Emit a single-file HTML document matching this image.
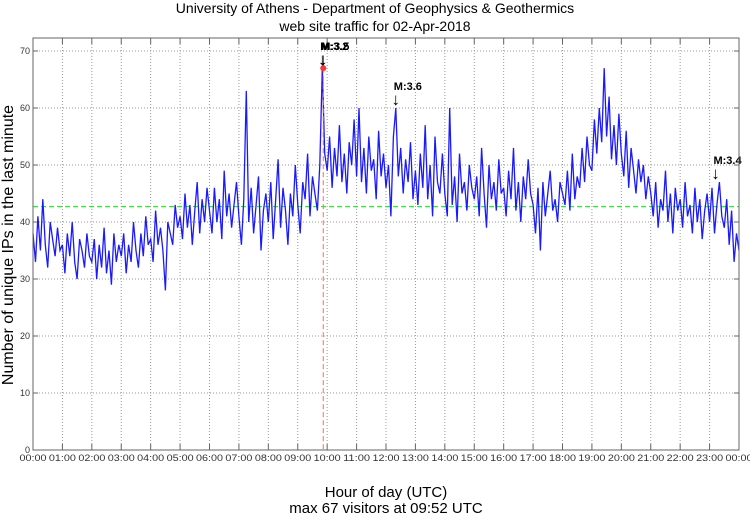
<!DOCTYPE html>
<html><head><meta charset="utf-8"><style>
body{margin:0;background:#fff;}
svg{display:block;font-family:"Liberation Sans",sans-serif;}
</style></head><body>
<svg id="chart" width="750" height="515" viewBox="0 0 750 515" xmlns="http://www.w3.org/2000/svg">
<text x="375" y="13" text-anchor="middle" font-size="14">University of Athens - Department of Geophysics &amp; Geothermics</text>
<text x="375" y="31" text-anchor="middle" font-size="14">web site traffic for 02-Apr-2018</text>
<text transform="translate(13,245) rotate(-90)" text-anchor="middle" font-size="16">Number of unique IPs in the last minute</text>
<text x="386" y="497" text-anchor="middle" font-size="15">Hour of day (UTC)</text>
<text x="386" y="513" text-anchor="middle" font-size="15">max 67 visitors at 09:52 UTC</text>
<g id="grid"></g>
<g id="series"></g>
<g id="marks"></g>
<rect x="33" y="38" width="706" height="412" fill="none" stroke="#666" stroke-width="1"/>
</svg>
<script>
const yTicks=[0,10,20,30,40,50,60,70];
const xTickLabels=["00:00","01:00","02:00","03:00","04:00","05:00","06:00","07:00","08:00","09:00","10:00","11:00","12:00","13:00","14:00","15:00","16:00","17:00","18:00","19:00","20:00","21:00","22:00","23:00","00:00"];
const visitors=[
38,33,41,35,44,36,32,40,37,34,39,35,
36,31,38,34,40,33,30,37,35,32,38,34,
33,37,30,36,32,39,31,35,29,38,33,36,
34,38,31,36,33,40,35,32,38,34,41,36,
37,33,42,36,39,35,28,40,38,36,43,39,
41,37,45,39,43,36,42,47,38,44,40,46,
42,38,46,40,44,37,49,41,45,39,43,47,
41,36,44,63,40,46,38,43,48,35,42,45,
40,47,37,44,51,39,46,42,36,45,41,50,
43,38,47,44,52,41,48,45,42,50,67,52,
49,55,46,53,48,57,47,52,45,54,50,58,
48,60,47,53,45,55,49,51,44,56,48,52,
46,50,41,55,60,48,53,45,51,47,54,44,
49,43,52,46,57,44,50,41,55,47,45,52,
45,41,60,43,48,40,52,45,47,42,50,46,
44,48,41,53,45,39,50,44,47,42,51,45,
46,41,49,44,53,42,47,40,48,44,51,45,
43,38,46,35,47,41,45,49,42,44,40,47,
45,43,49,42,52,44,48,46,53,47,55,50,
49,58,52,60,54,67,55,62,51,57,50,59,
52,48,56,46,53,49,45,51,47,50,44,48,
45,41,47,39,44,42,49,40,45,38,46,42,
44,39,47,41,43,38,46,40,44,37,42,45,
40,46,38,43,47,41,39,44,36,42,33,38,35];
const stepMinutes=5;
const meanVisitors=42.7;
const maxMinute=592; const maxValue=67;
const quakeLabels=["M:3.2","M:3.5","M:3.6","M:3.4"];
const quakeMinutes=[590,592,740,1392];
const quakeValues=[67,67,60,47];

const NS="http://www.w3.org/2000/svg";
const X0=33,X1=739,Y0=450,YT=38;
const xs=m=>X0+m/1440*(X1-X0);
const ys=v=>Y0-v*5.7;
function mk(tag,attrs,parent){const e=document.createElementNS(NS,tag);for(const k in attrs)e.setAttribute(k,attrs[k]);parent.appendChild(e);return e;}
const grid=document.getElementById('grid'),series=document.getElementById('series'),marks=document.getElementById('marks');
yTicks.forEach(v=>{
  const y=ys(v);
  if(v>0){const g=mk('line',{x1:X0,x2:X1,y1:y,y2:y,stroke:'#999','stroke-dasharray':'1,2'},grid);
  
  }
  mk('line',{x1:X0,x2:X0+5,y1:y,y2:y,stroke:'#666'},grid);
  mk('line',{x1:X1-5,x2:X1,y1:y,y2:y,stroke:'#666'},grid);
  const t=mk('text',{x:X0-3,y:y+3,'text-anchor':'end','font-size':'9',fill:'#333'},grid);
  t.textContent=v;
  
  
});
xTickLabels.forEach((lab,i)=>{
  const x=xs(i*60);
  if(i>0&&i<24){const g=mk('line',{x1:x,x2:x,y1:YT,y2:Y0,stroke:'#999','stroke-dasharray':'1,2'},grid);
  
  }
  mk('line',{x1:x,x2:x,y1:Y0-6,y2:Y0,stroke:'#666'},grid);
  mk('line',{x1:x,x2:x,y1:YT,y2:YT+6,stroke:'#666'},grid);
  const t=mk('text',{x:x,y:Y0+11,'text-anchor':'middle','font-size':'9',fill:'#333',textLength:'27',lengthAdjust:'spacingAndGlyphs'},grid);
  t.textContent=lab;
  
  
});
const mean=mk('line',{x1:X0,x2:X1,y1:ys(meanVisitors),y2:ys(meanVisitors),stroke:'#22dd22','stroke-dasharray':'5,3','stroke-width':'1'},series);


let d='';
visitors.forEach((v,i)=>{d+=(i?'L':'M')+xs(i*stepMinutes).toFixed(1)+','+ys(v).toFixed(1);});
const line=mk('path',{d:d,fill:'none',stroke:'#1a1aff','stroke-width':'1.3'},series);


const vl=mk('line',{x1:xs(maxMinute),x2:xs(maxMinute),y1:ys(maxValue),y2:Y0,stroke:'#ff6666','stroke-dasharray':'5,3'},marks);


const c=mk('circle',{cx:xs(maxMinute),cy:ys(maxValue),r:3,fill:'#ff3333'},marks);


quakeLabels.forEach((lab,i)=>{
  const x=xs(quakeMinutes[i]),y=ys(quakeValues[i]);
  const a=mk('text',{x:x,y:y-3,'text-anchor':'middle','font-size':'17'},marks);
  a.textContent='↓';
  
  
  const t=mk('text',{x:x-2,y:y-18,'font-size':'11','font-weight':'bold'},marks);
  t.textContent=lab;
  
  
});
</script>
</body></html>
